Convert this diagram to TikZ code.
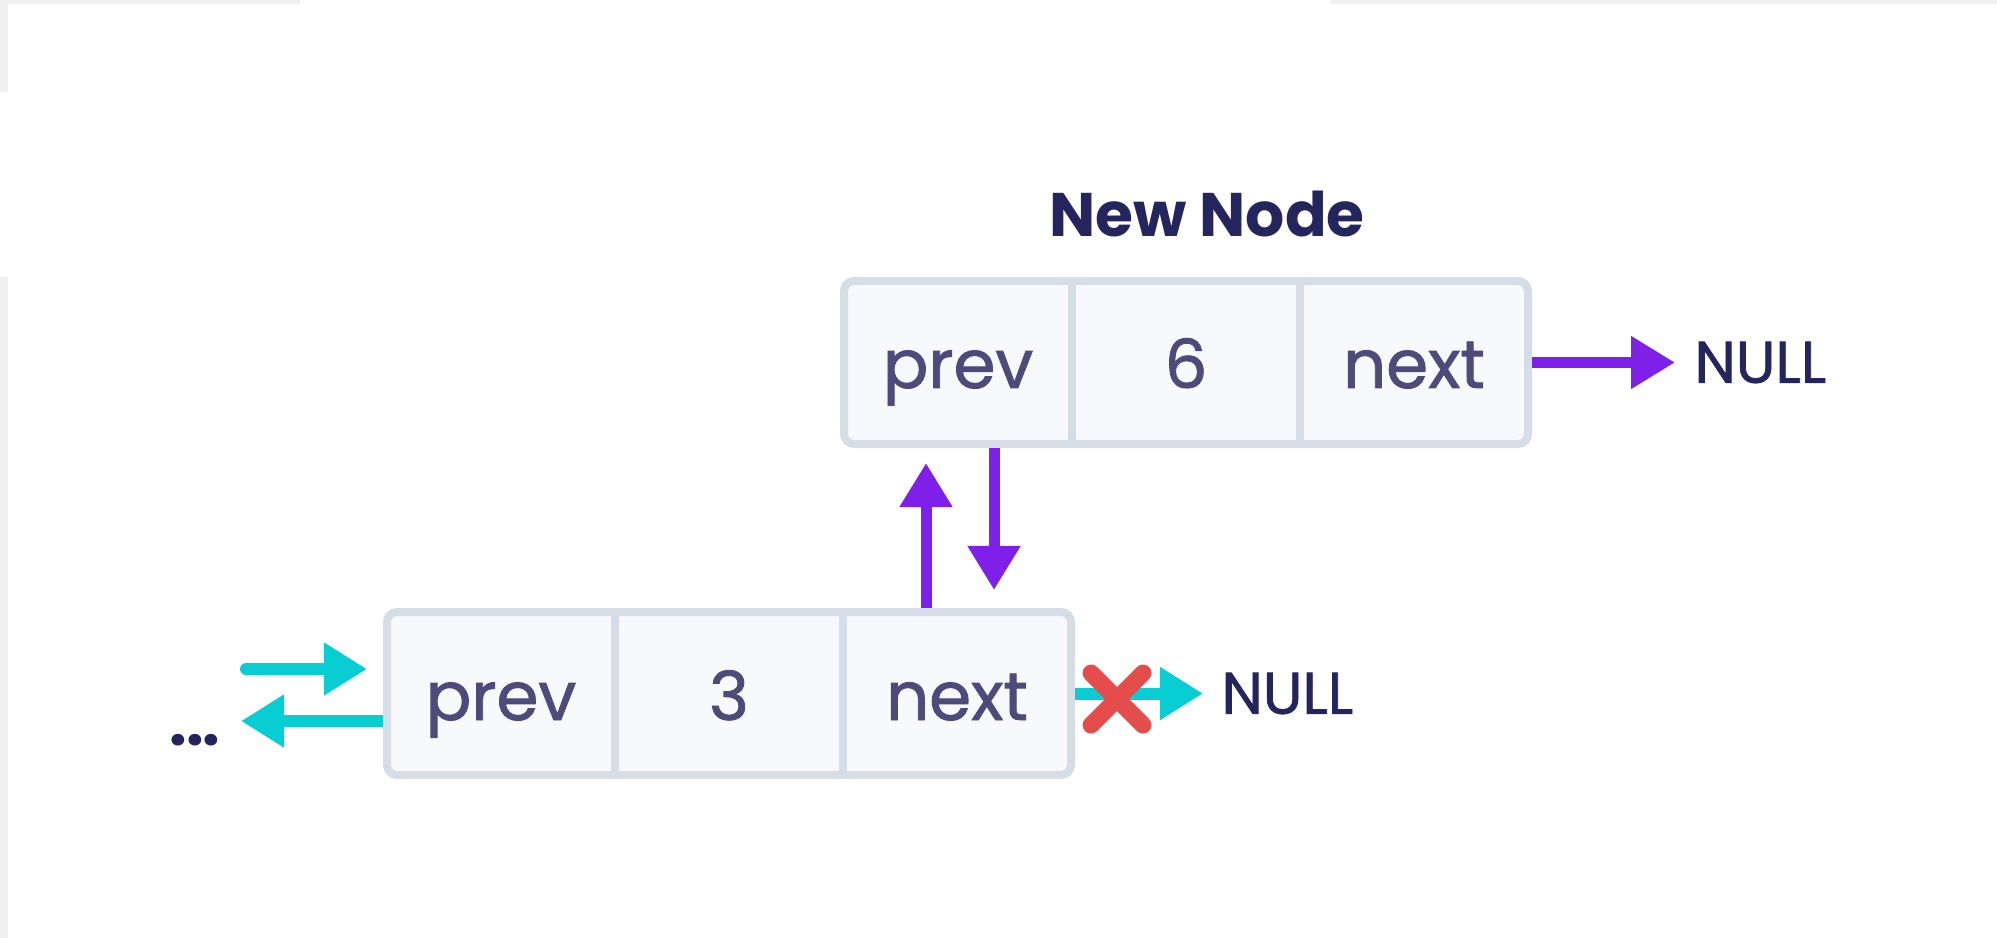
\documentclass[tikz,border=0pt]{standalone}
\usepackage{fontspec}
\setmainfont{Poppins}
\newfontfamily\medfont{Poppins}[FakeBold=1.3]
\usetikzlibrary{arrows.meta}

\definecolor{inkblue}{RGB}{37,37,94}
\definecolor{cellink}{RGB}{78,74,122}
\definecolor{cellfill}{RGB}{247,249,252}
\definecolor{cellline}{RGB}{213,221,230}
\definecolor{ptrviolet}{RGB}{126,32,232}
\definecolor{ptrcyan}{RGB}{8,206,212}
\definecolor{crossred}{RGB}{229,76,76}
\definecolor{edgegray}{RGB}{240,240,240}

\tikzset{
  listbox/.style={draw=cellline, fill=cellfill, line width=3.2pt,
    rounded corners=4pt, minimum width=273.6pt, minimum height=65.2pt,
    inner sep=0pt, outer sep=1.6pt},
  cellrule/.style={draw=cellline, line width=3.2pt},
  celltext/.style={anchor=base, inner sep=0pt, text=cellink,
    font=\medfont\fontsize{27}{32}\selectfont},
  nulltext/.style={anchor=west, inner sep=0pt, text=inkblue,
    font=\medfont\fontsize{23.5}{28}\selectfont},
  parrow/.style={draw=ptrviolet, line width=4.4pt,
    -{Triangle[length=17.6pt, width=20pt]}},
  carrow/.style={draw=ptrcyan, line width=4.8pt,
    -{Triangle[length=17.2pt, width=20pt]}},
  crossline/.style={draw=crossred, line width=6.8pt, line cap=round},
}

\begin{document}
\begin{tikzpicture}[x=0.4pt, y=-0.4pt]
  % canvas and its thin grey margins
  \useasboundingbox (0,0) rectangle (1997,938);
  \fill[white] (0,0) rectangle (1997,938);
  \fill[edgegray] (0,0) rectangle (300,4);
  \fill[edgegray] (1330,0) rectangle (1997,4);
  \fill[edgegray] (0,0) rectangle (8,92);
  \fill[edgegray] (0,277) rectangle (8,938);

  % the new node
  \node[anchor=base, inner sep=0pt, text=inkblue,
        font=\fontsize{24.6}{30}\selectfont\bfseries] (newlabel) at (1207,237) {New Node};
  \node[listbox] (topbox) at (1186,362.5) {};
  \draw[cellrule] (1072,281) -- (1072,444);
  \draw[cellrule] (1300,281) -- (1300,444);
  \node[celltext] (topprev) at (958,388) {prev};
  \node[celltext] (topdata) at (1186,388) {6};
  \node[celltext] (topnext) at (1414,388) {next};

  % the existing node
  \node[listbox] (botbox) at (729,693.5) {};
  \draw[cellrule] (615,612) -- (615,775);
  \draw[cellrule] (843,612) -- (843,775);
  \node[celltext] (botprev) at (501,720) {prev};
  \node[celltext] (botdata) at (729,720) {3};
  \node[celltext] (botnext) at (957,720) {next};

  % NULL terminators
  \node[nulltext] (nullA) at (1694,362.5) {NULL};
  \node[nulltext] (nullB) at (1221,693.5) {NULL};

  % links of the new node
  \draw[parrow, shorten >=7.6pt] (topbox.east) -- (nullA.west);
  \coordinate (upx) at (926,0);
  \coordinate (downx) at (994,0);
  \draw[parrow, shorten >=6pt] (botbox.north -| upx) -- (topbox.south -| upx);
  \draw[parrow, shorten >=7.2pt] (topbox.south -| downx) -- (botbox.north -| downx);

  % old next link, removed
  \draw[carrow, shorten >=7.2pt] (botbox.east) -- (nullB.west);
  \coordinate (cut) at (1117,699);
  \draw[crossline] ([shift={(-26,-26)}]cut) -- ([shift={(26,26)}]cut);
  \draw[crossline] ([shift={(-26,26)}]cut) -- ([shift={(26,-26)}]cut);

  % links towards the rest of the list
  \coordinate (leftin) at (246,669);
  \coordinate (leftout) at (241,721);
  \draw[carrow, line cap=round, shorten >=6.4pt] (leftin) -- (botbox.west |- leftin);
  \draw[carrow] (botbox.west |- leftout) -- (leftout);
  \node[anchor=base east, inner sep=0pt, text=inkblue,
        font=\fontsize{25}{30}\selectfont\bfseries] (dots) at (221,745)
        {.\kern-0.3pt.\kern-0.3pt.};
\end{tikzpicture}
\end{document}
